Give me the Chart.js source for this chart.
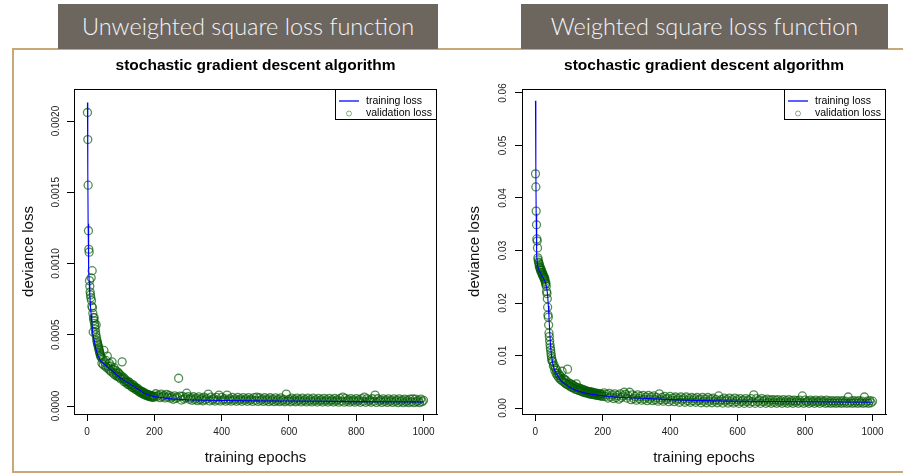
<!DOCTYPE html>
<html>
<head>
<meta charset="utf-8">
<script src="https://cdn.jsdelivr.net/npm/chart.js@4.4.1/dist/chart.umd.min.js"></script>
<style>
  body { margin: 0; width: 903px; height: 475px; background: #fff; position: relative; overflow: hidden; }
  .frame { position: absolute; left: 12px; top: 48px; width: 900px; height: 421px;
           border: 2px solid #c9a877; border-right: none; }
  .banner { position: absolute; top: 4px; height: 45px; background: #6d665f; color: #f4f4f4;
            font-family: Lato, "Open Sans", sans-serif; font-weight: 300; font-size: 23.5px;
            line-height: 45px; text-align: center; white-space: nowrap; }
  .panel { position: absolute; top: 50px; }
</style>
</head>
<body>
<div class="frame"></div>
<div class="banner" style="left:58px;width:380px">Unweighted square loss function</div>
<div class="banner" style="left:521px;width:367px">Weighted square loss function</div>
<div class="panel" style="left:14px"><canvas id="lossA" width="440" height="422"></canvas></div>
<div class="panel" style="left:460px"><canvas id="lossB" width="443" height="422"></canvas></div>

<script>
// shared axis
const xTicks = [0, 200, 400, 600, 800, 1000];
const xTickLabels = ['0', '200', '400', '600', '800', '1000'];

// ---- unweighted square loss ----
const yTicksA = [0, 0.0005, 0.001, 0.0015, 0.002];
const yTickLabelsA = ['0.0000', '0.0005', '0.0010', '0.0015', '0.0020'];

const trainEpochsA = [1, 2, 3, 4, 5, 6, 8, 10, 12, 14,
  16, 18, 21, 25, 30, 35, 40, 50, 60, 70,
  80, 90, 100, 110, 120, 130, 140, 150, 160, 170,
  180, 190, 200, 220, 250, 300, 350, 400, 500, 600,
  700, 800, 900, 1000];
const trainLossA = [213e-5, 165e-5, 128e-5, 108e-5, 96e-5, 88e-5, 78e-5, 70e-5, 64e-5, 58e-5,
  53e-5, 49e-5, 46e-5, 41e-5, 37e-5, 34e-5, 31.5e-5, 29.5e-5, 27.5e-5, 25.5e-5,
  23.5e-5, 21.5e-5, 19.5e-5, 18e-5, 16.5e-5, 15e-5, 13.5e-5, 12e-5, 10.5e-5, 9e-5,
  8e-5, 7.2e-5, 6.6e-5, 6e-5, 5e-5, 4.4e-5, 4.1e-5, 3.9e-5, 3.7e-5, 3.5e-5,
  3.3e-5, 3.1e-5, 3e-5, 2.9e-5];

const validEpochsA = [1, 2, 3, 4, 5, 6, 7, 8, 9, 10,
  11, 12, 13, 14, 15, 16, 17, 18, 19, 20,
  21, 22, 23, 24, 25, 26, 27, 28, 29, 30,
  31, 32, 33, 34, 35, 36, 37, 38, 39, 40,
  42, 44, 46, 48, 50, 52, 54, 56, 58, 60,
  62, 64, 66, 68, 70, 72, 74, 76, 78, 80,
  82, 84, 86, 88, 90, 92, 94, 96, 98, 100,
  102, 104, 106, 108, 110, 112, 114, 116, 118, 120,
  122, 124, 126, 128, 130, 132, 134, 136, 138, 140,
  142, 144, 146, 148, 150, 152, 154, 156, 158, 160,
  162, 164, 166, 168, 170, 172, 174, 176, 178, 180,
  182, 184, 186, 188, 190, 192, 194, 196, 198, 200,
  204, 208, 212, 216, 220, 224, 228, 232, 236, 240,
  244, 248, 252, 256, 260, 264, 268, 272, 276, 280,
  284, 288, 292, 296, 300, 304, 308, 312, 316, 320,
  324, 328, 332, 336, 340, 344, 348, 352, 356, 360,
  364, 368, 372, 376, 380, 384, 388, 392, 396, 400,
  404, 408, 412, 416, 420, 424, 428, 432, 436, 440,
  444, 448, 452, 456, 460, 464, 468, 472, 476, 480,
  484, 488, 492, 496, 500, 504, 508, 512, 516, 520,
  524, 528, 532, 536, 540, 544, 548, 552, 556, 560,
  564, 568, 572, 576, 580, 584, 588, 592, 596, 600,
  604, 608, 612, 616, 620, 624, 628, 632, 636, 640,
  644, 648, 652, 656, 660, 664, 668, 672, 676, 680,
  684, 688, 692, 696, 700, 704, 708, 712, 716, 720,
  724, 728, 732, 736, 740, 744, 748, 752, 756, 760,
  764, 768, 772, 776, 780, 784, 788, 792, 796, 800,
  804, 808, 812, 816, 820, 824, 828, 832, 836, 840,
  844, 848, 852, 856, 860, 864, 868, 872, 876, 880,
  884, 888, 892, 896, 900, 904, 908, 912, 916, 920,
  924, 928, 932, 936, 940, 944, 948, 952, 956, 960,
  964, 968, 972, 976, 980, 984, 988, 992, 996, 1000];
const validLossA = [206e-5, 187e-5, 155e-5, 123e-5, 110e-5, 108e-5, 88e-5, 84e-5, 80e-5, 78e-5,
  76e-5, 90e-5, 74e-5, 70e-5, 95e-5, 69e-5, 65e-5, 52e-5, 62e-5, 60e-5,
  62e-5, 58e-5, 56e-5, 54e-5, 52e-5, 50e-5, 57e-5, 48e-5, 46e-5, 45e-5,
  44e-5, 43e-5, 42e-5, 41e-5, 40e-5, 39e-5, 38e-5, 37e-5, 36e-5, 35e-5,
  34e-5, 30e-5, 33e-5, 29e-5, 39e-5, 31e-5, 28e-5, 32e-5, 27e-5, 35e-5,
  28e-5, 26e-5, 30e-5, 25e-5, 28e-5, 24e-5, 31e-5, 26e-5, 23e-5, 27e-5,
  22e-5, 25e-5, 23e-5, 21e-5, 24e-5, 21e-5, 23e-5, 20e-5, 22e-5, 19e-5,
  21e-5, 31e-5, 19e-5, 20e-5, 17e-5, 19e-5, 17e-5, 18e-5, 16e-5, 17e-5,
  15e-5, 17e-5, 15e-5, 16e-5, 14e-5, 15e-5, 13e-5, 15e-5, 13e-5, 14e-5,
  12e-5, 13e-5, 11.5e-5, 12.5e-5, 11e-5, 12e-5, 10e-5, 11e-5, 9.5e-5, 10.5e-5,
  9e-5, 10e-5, 8.5e-5, 9.5e-5, 8e-5, 9e-5, 7.5e-5, 8.5e-5, 7.2e-5, 8e-5,
  7e-5, 7.8e-5, 6.6e-5, 7.5e-5, 6.4e-5, 7.2e-5, 6.2e-5, 7e-5, 6e-5, 6.8e-5,
  8.6e-5, 6.7e-5, 7.6e-5, 5.9e-5, 8.4e-5, 6.5e-5, 7.4e-5, 5.7e-5, 8.2e-5, 6.3e-5,
  7.4e-5, 5.5e-5, 6.4e-5, 4.7e-5, 7.1e-5, 5.3e-5, 6.2e-5, 19.5e-5, 6.9e-5, 4.2e-5,
  6.8e-5, 4.9e-5, 5.9e-5, 9e-5, 6.6e-5, 4.7e-5, 5.7e-5, 4e-5, 6.5e-5, 4.6e-5,
  5.5e-5, 3.8e-5, 6.4e-5, 4.5e-5, 5.4e-5, 3.7e-5, 6.3e-5, 4.4e-5, 5.3e-5, 8.4e-5,
  3.6e-5, 6.2e-5, 4.3e-5, 5.2e-5, 3.5e-5, 6.1e-5, 4.2e-5, 7.7e-5, 3.5e-5, 6.1e-5,
  4.2e-5, 5.1e-5, 3.4e-5, 7.7e-5, 4.1e-5, 5.1e-5, 3.4e-5, 6e-5, 4.1e-5, 5e-5,
  3.3e-5, 6e-5, 4.1e-5, 5e-5, 3.3e-5, 5.9e-5, 4e-5, 5e-5, 3.3e-5, 5.9e-5,
  4e-5, 4.9e-5, 3.2e-5, 5.9e-5, 4e-5, 6.3e-5, 3.2e-5, 5.8e-5, 3.9e-5, 4.9e-5,
  3.2e-5, 5.8e-5, 3.9e-5, 4.8e-5, 3.1e-5, 5.8e-5, 3.9e-5, 4.8e-5, 3.1e-5, 5.7e-5,
  3.8e-5, 4.8e-5, 3.1e-5, 5.7e-5, 3.8e-5, 4.7e-5, 3e-5, 8.4e-5, 3.8e-5, 4.7e-5,
  3e-5, 5.6e-5, 3.7e-5, 4.7e-5, 3e-5, 5.6e-5, 3.7e-5, 4.6e-5, 2.9e-5, 5.5e-5,
  3.7e-5, 4.6e-5, 2.9e-5, 5.5e-5, 3.6e-5, 4.6e-5, 2.9e-5, 5.5e-5, 3.6e-5, 4.5e-5,
  2.8e-5, 5.4e-5, 3.6e-5, 4.5e-5, 2.8e-5, 5.4e-5, 3.5e-5, 4.5e-5, 2.8e-5, 5.4e-5,
  3.5e-5, 4.4e-5, 2.8e-5, 5.3e-5, 3.5e-5, 4.4e-5, 2.7e-5, 5.3e-5, 3.5e-5, 6.3e-5,
  2.7e-5, 5.3e-5, 3.4e-5, 4.4e-5, 2.7e-5, 5.2e-5, 3.4e-5, 4.3e-5, 2.7e-5, 5.2e-5,
  3.4e-5, 4.3e-5, 2.6e-5, 5.2e-5, 3.3e-5, 6.3e-5, 2.6e-5, 5.1e-5, 3.3e-5, 4.2e-5,
  2.6e-5, 5.1e-5, 3.3e-5, 7.7e-5, 2.5e-5, 5.1e-5, 3.3e-5, 4.2e-5, 2.5e-5, 5e-5,
  3.2e-5, 4.2e-5, 2.5e-5, 5e-5, 3.2e-5, 4.1e-5, 2.5e-5, 5e-5, 3.2e-5, 4.1e-5,
  2.4e-5, 5e-5, 3.2e-5, 4.1e-5, 2.4e-5, 4.9e-5, 3.1e-5, 4.1e-5, 2.4e-5, 4.9e-5,
  3.1e-5, 5e-5, 2.4e-5, 4.9e-5, 3.1e-5, 4e-5, 2.4e-5, 4.9e-5, 3.1e-5, 4e-5];

// ---- weighted square loss ----
const yTicksB = [0, 0.01, 0.02, 0.03, 0.04, 0.05, 0.06];
const yTickLabelsB = ['0.00', '0.01', '0.02', '0.03', '0.04', '0.05', '0.06'];

const trainEpochsB = [1, 2, 3, 4, 5, 7, 10, 15, 20, 25,
  30, 34, 37, 39, 41, 43, 45, 48, 52, 57,
  64, 72, 82, 92, 104, 120, 140, 160, 190, 220,
  260, 300, 400, 500, 600, 700, 800, 900, 1000];
const trainLossB = [0.0585, 0.0462, 0.0370, 0.0318, 0.0290, 0.0272, 0.0264, 0.0258, 0.0252, 0.0246,
  0.0240, 0.0230, 0.0215, 0.0195, 0.0172, 0.0148, 0.0125, 0.0102, 0.0085, 0.0073,
  0.0064, 0.0056, 0.0049, 0.0044, 0.0039, 0.0034, 0.0030, 0.0027, 0.0024, 0.0022,
  0.0020, 0.0019, 0.0016, 0.0014, 0.0013, 0.00125, 0.0012, 0.00115, 0.0011];

const validEpochsB = [1, 2, 3, 4, 5, 6, 7, 8, 9, 10,
  11, 12, 13, 14, 15, 16, 17, 18, 19, 20,
  21, 22, 23, 24, 25, 26, 27, 28, 29, 30,
  31, 32, 33, 34, 35, 36, 37, 38, 39, 40,
  41, 42, 43, 44, 45, 46, 47, 48, 49, 50,
  52, 54, 56, 58, 60, 62, 64, 66, 68, 70,
  72, 74, 76, 78, 80, 82, 84, 86, 88, 90,
  92, 94, 96, 98, 100, 102, 104, 106, 108, 110,
  112, 114, 116, 118, 120, 122, 124, 126, 128, 130,
  132, 134, 136, 138, 140, 142, 144, 146, 148, 150,
  152, 154, 156, 158, 160, 162, 164, 166, 168, 170,
  172, 174, 176, 178, 180, 182, 184, 186, 188, 190,
  192, 194, 196, 198, 200,
  204, 208, 212, 216, 220, 224, 228, 232, 236, 240,
  244, 248, 252, 256, 260, 264, 268, 272, 276, 280,
  284, 288, 292, 296, 300, 304, 308, 312, 316, 320,
  324, 328, 332, 336, 340, 344, 348, 352, 356, 360,
  364, 368, 372, 376, 380, 384, 388, 392, 396, 400,
  404, 408, 412, 416, 420, 424, 428, 432, 436, 440,
  444, 448, 452, 456, 460, 464, 468, 472, 476, 480,
  484, 488, 492, 496, 500, 504, 508, 512, 516, 520,
  524, 528, 532, 536, 540, 544, 548, 552, 556, 560,
  564, 568, 572, 576, 580, 584, 588, 592, 596, 600,
  604, 608, 612, 616, 620, 624, 628, 632, 636, 640,
  644, 648, 652, 656, 660, 664, 668, 672, 676, 680,
  684, 688, 692, 696, 700, 704, 708, 712, 716, 720,
  724, 728, 732, 736, 740, 744, 748, 752, 756, 760,
  764, 768, 772, 776, 780, 784, 788, 792, 796, 800,
  804, 808, 812, 816, 820, 824, 828, 832, 836, 840,
  844, 848, 852, 856, 860, 864, 868, 872, 876, 880,
  884, 888, 892, 896, 900, 904, 908, 912, 916, 920,
  924, 928, 932, 936, 940, 944, 948, 952, 956, 960,
  964, 968, 972, 976, 980, 984, 988, 992, 996, 1000];
const validLossB = [0.0446, 0.0421, 0.0375, 0.0349, 0.0322, 0.0318, 0.0305, 0.0286, 0.0282, 0.0278,
  0.0276, 0.0270, 0.0273, 0.0266, 0.0268, 0.0262, 0.0265, 0.0259, 0.0262, 0.0256,
  0.0258, 0.0253, 0.0255, 0.0250, 0.0252, 0.0247, 0.0249, 0.0244, 0.0246, 0.0241,
  0.0236, 0.0238, 0.0232, 0.0222, 0.0218, 0.0208, 0.0192, 0.0177, 0.0173, 0.0158,
  0.0143, 0.0136, 0.0128, 0.0121, 0.0115, 0.0110, 0.0104, 0.0099, 0.0094, 0.0090,
  0.0088, 0.0080, 0.0082, 0.0072, 0.0076, 0.0066, 0.0072, 0.0062, 0.0066, 0.0058,
  0.0063, 0.0055, 0.0060, 0.0053, 0.0070, 0.0051, 0.0056, 0.0049, 0.0054, 0.0047,
  0.0052, 0.0045, 0.0074, 0.0044, 0.0048, 0.0042, 0.0046, 0.0040, 0.0045, 0.0039,
  0.0043, 0.0038, 0.0042, 0.0036, 0.0040, 0.0046, 0.0035, 0.0039, 0.0034, 0.0038,
  0.0033, 0.0037, 0.0032, 0.0036, 0.0031, 0.0035, 0.0030, 0.0034, 0.0029, 0.0033,
  0.0029, 0.0032, 0.0028, 0.0031, 0.0027, 0.0031, 0.0027, 0.0030, 0.0026, 0.0030,
  0.0026, 0.0029, 0.0025, 0.0029, 0.0025, 0.0028, 0.0024, 0.0028, 0.0024, 0.0027,
  0.0023, 0.0027, 0.0023, 0.0026, 0.0022,
  0.0029, 0.0022, 0.0026, 0.0019, 0.0028, 0.0021, 0.0025, 0.0018, 0.0027, 0.0020,
  0.0024, 0.0017, 0.0027, 0.0020, 0.0023, 0.0030, 0.0026, 0.0019, 0.0023, 0.0030,
  0.0016, 0.0025, 0.0018, 0.0022, 0.0015, 0.0025, 0.0018, 0.0022, 0.0015, 0.0024,
  0.0017, 0.0021, 0.0014, 0.0024, 0.0017, 0.0021, 0.0014, 0.0023, 0.0016, 0.0020,
  0.0013, 0.0027, 0.0016, 0.0020, 0.0013, 0.0022, 0.0016, 0.0019, 0.0012, 0.0022,
  0.0015, 0.0019, 0.0012, 0.0021, 0.0015, 0.0018, 0.0011, 0.0021, 0.0015, 0.0018,
  0.0011, 0.0021, 0.0014, 0.0018, 0.0011, 0.0020, 0.0014, 0.0018, 0.0011, 0.0020,
  0.0014, 0.0017, 0.0010, 0.0020, 0.0013, 0.0017, 0.0010, 0.0020, 0.0013, 0.0017,
  0.0010, 0.0019, 0.0013, 0.0016, 0.0010, 0.0023, 0.0013, 0.0016, 0.00095, 0.0019,
  0.0013, 0.0016, 0.00095, 0.0019, 0.0012, 0.0016, 0.00095, 0.0019, 0.0012, 0.0016,
  0.0009, 0.0018, 0.0012, 0.0015, 0.0009, 0.0018, 0.0012, 0.0015, 0.0009, 0.0018,
  0.0012, 0.0025, 0.0009, 0.0018, 0.0012, 0.0015, 0.0009, 0.0018, 0.0012, 0.0015,
  0.0009, 0.0017, 0.0011, 0.0015, 0.0009, 0.0016, 0.0011, 0.0015, 0.0009, 0.0016,
  0.0011, 0.0014, 0.0009, 0.0016, 0.0011, 0.0014, 0.0009, 0.0016, 0.0011, 0.0014,
  0.0009, 0.0015, 0.0011, 0.0014, 0.0009, 0.0015, 0.0011, 0.0023, 0.0009, 0.0015,
  0.0011, 0.0013, 0.0009, 0.0015, 0.0011, 0.0013, 0.0009, 0.0015, 0.0011, 0.0013,
  0.0009, 0.0015, 0.0011, 0.0013, 0.0009, 0.0015, 0.0010, 0.0013, 0.0009, 0.0014,
  0.0010, 0.0013, 0.0009, 0.0014, 0.0010, 0.0013, 0.0009, 0.0014, 0.0010, 0.0013,
  0.0009, 0.0021, 0.0010, 0.0013, 0.0009, 0.0014, 0.0010, 0.0013, 0.0009, 0.0014,
  0.0010, 0.0013, 0.0009, 0.0021, 0.0010, 0.0013, 0.0009, 0.0014, 0.0010, 0.0013];

Chart.defaults.font.family = "'Liberation Sans', Arial, sans-serif";

// R-style plot box, main title and legend
const rFrame = {
  id: 'rFrame',
  afterDraw(chart, args, opts) {
    const {ctx, chartArea: a} = chart;
    ctx.save();
    ctx.strokeStyle = '#000';
    ctx.lineWidth = 1;
    ctx.strokeRect(Math.round(a.left) + 0.5, Math.round(a.top) + 0.5,
      Math.round(a.right - a.left) - 1, Math.round(a.bottom - a.top));

    ctx.fillStyle = '#000';
    ctx.font = "bold 15.5px 'Liberation Sans', Arial, sans-serif";
    ctx.textAlign = 'center';
    ctx.textBaseline = 'middle';
    ctx.fillText(opts.title, (a.left + a.right) / 2, 16);

    // legend box in the top right corner
    const lw = 102, lh = 30;
    const lx = Math.round(a.right) - lw, ly = Math.round(a.top);
    ctx.fillStyle = '#fff';
    ctx.fillRect(lx, ly, lw, lh);
    ctx.strokeRect(lx + 0.5, ly + 0.5, lw - 1, lh);
    ctx.strokeStyle = 'rgb(40,40,255)';
    ctx.lineWidth = 1.5;
    ctx.beginPath();
    ctx.moveTo(lx + 4, ly + 12);
    ctx.lineTo(lx + 24, ly + 12);
    ctx.stroke();
    ctx.lineWidth = 1;
    ctx.strokeStyle = 'rgba(20,90,20,0.5)';
    ctx.beginPath();
    ctx.arc(lx + 14, ly + 24.5, 2.5, 0, Math.PI * 2);
    ctx.stroke();
    ctx.fillStyle = '#000';
    ctx.font = "10.5px 'Liberation Sans', Arial, sans-serif";
    ctx.textAlign = 'left';
    ctx.fillText('training loss', lx + 31, ly + 12);
    ctx.fillText('validation loss', lx + 31, ly + 24);
    ctx.restore();
  }
};

function pairs(xs, ys) {
  return xs.map((x, i) => ({x: x, y: ys[i]}));
}

function rAxis(extra) {
  return Object.assign({
    type: 'linear',
    grid: {display: true, drawOnChartArea: false, drawTicks: true, tickLength: 7,
           color: '#000', lineWidth: 1},
    border: {display: true, color: '#000', width: 1},
  }, extra);
}

function lossChart(id, c) {
  return new Chart(document.getElementById(id), {
    type: 'scatter',
    data: {
      datasets: [
        {
          label: 'training loss',
          data: pairs(c.trainEpochs, c.trainLoss),
          showLine: true,
          borderColor: '#0000ff',
          borderWidth: 1.1,
          pointRadius: 0,
          order: 0,
        },
        {
          label: 'validation loss',
          data: pairs(c.validEpochs, c.validLoss),
          showLine: false,
          pointRadius: 4,
          pointBorderWidth: 1.3,
          pointBorderColor: 'rgba(0,90,0,0.68)',
          pointBackgroundColor: 'rgba(0,0,0,0)',
          order: 1,
        },
      ],
    },
    options: {
      responsive: false,
      animation: false,
      devicePixelRatio: 1,
      layout: {padding: {top: 39, right: c.padRight, bottom: 0, left: 0}},
      plugins: {
        legend: {display: false},
        tooltip: {enabled: false},
        rFrame: {title: 'stochastic gradient descent algorithm'},
      },
      scales: {
        x: rAxis({
          min: -39, max: 1040,
          afterBuildTicks: s => { s.ticks = xTicks.map(v => ({value: v})); },
          afterFit: s => { s.height = 58; },
          ticks: {font: {size: 10}, color: '#222', padding: 5, maxRotation: 0, autoSkip: false,
                  callback: (v, i) => xTickLabels[i]},
          title: {display: true, text: 'training epochs', font: {size: 15}, color: '#111',
                  padding: {top: 0, bottom: 5}},
        }),
        y: rAxis({
          min: c.yMin, max: c.yMax,
          afterBuildTicks: s => { s.ticks = c.yTicks.map(v => ({value: v})); },
          afterFit: s => { s.width = c.axisWidth; },
          ticks: {font: {size: 10}, color: '#222', padding: c.labelPad, minRotation: 90, maxRotation: 90,
                  crossAlign: 'center', autoSkip: false, callback: (v, i) => c.yTickLabels[i]},
          title: {display: true, text: 'deviance loss', font: {size: 15}, color: '#111',
                  padding: {top: 6, bottom: 0}},
        }),
      },
    },
    plugins: [rFrame],
  });
}

lossChart('lossA', {
  trainEpochs: trainEpochsA, trainLoss: trainLossA,
  validEpochs: validEpochsA, validLoss: validLossA,
  yTicks: yTicksA, yTickLabels: yTickLabelsA,
  yMin: -0.000056, yMax: 0.002225, axisWidth: 60, labelPad: -5, padRight: 17,
});

lossChart('lossB', {
  trainEpochs: trainEpochsB, trainLoss: trainLossB,
  validEpochs: validEpochsB, validLoss: validLossB,
  yTicks: yTicksB, yTickLabels: yTickLabelsB,
  yMin: -0.00114, yMax: 0.06076, axisWidth: 62, labelPad: 2, padRight: 17,
});
</script>
</body>
</html>
